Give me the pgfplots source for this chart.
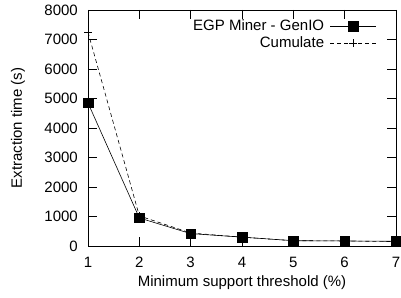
\documentclass[border=0pt]{standalone}
\usepackage{pgfplots}
\pgfplotsset{compat=1.18}
\usepackage{fontspec}
\setmainfont{Liberation Sans}
\begin{document}
\begin{tikzpicture}[font=\fontsize{15bp}{17bp}\selectfont]
\begin{axis}[
  scale only axis,
  width=308bp, height=236bp,
  xmin=1, xmax=7, ymin=0, ymax=8000,
  xtick={1,2,3,4,5,6,7},
  ytick={0,1000,2000,3000,4000,5000,6000,7000,8000},
  tick align=inside,
  major tick length=9bp,
  tick style={black, line width=0.6pt},
  axis line style={line width=0.8pt},
  scaled y ticks=false,
  tick label style={font=\fontsize{15bp}{17bp}\selectfont},
  label style={font=\fontsize{15bp}{17bp}\selectfont},
  yticklabel style={/pgf/number format/1000 sep={}, anchor=east, inner sep=0pt, xshift=-10bp},
  xticklabel style={anchor=center, inner sep=0pt, yshift=-16bp},
  /pgf/number format/assume math mode=true,
  xlabel={Minimum support threshold (\%)},
  ylabel={Extraction time (s)},
  xlabel style={at={(rel axis cs:0.5,0)}, anchor=center, yshift=-37bp},
  ylabel style={at={(rel axis cs:0,0.5)}, anchor=center, rotate=0, yshift=70bp},
  legend style={draw=none, fill=none, at={(rel axis cs:0.938,0.962)}, anchor=north east,
    font=\fontsize{15bp}{17bp}\selectfont, row sep=3bp, inner sep=0pt,
    nodes={inner sep=0pt, text height=11bp, text depth=3bp}},
  legend cell align=right,
  legend plot pos=right,
  legend image code/.code={\path (0bp,0bp); \draw[#1] (6bp,0bp) -- (52bp,0bp); \draw[#1, only marks] plot coordinates {(29bp,0bp)};},
]
\addplot[black, line width=0.6pt, mark=square*, mark size=4.8bp, mark options={solid}]
  coordinates {(1,4850) (2,950) (3,420) (4,300) (5,180) (6,170) (7,160)};
\addlegendentry{EGP Miner - GenIO}
\addplot[black, line width=0.6pt, dash pattern=on 4bp off 3bp, mark=+, mark size=4bp, mark options={solid}]
  coordinates {(1,7250) (2,1020) (3,440) (4,300) (5,180) (6,170) (7,150)};
\addlegendentry{Cumulate}
\end{axis}
\pgfresetboundingbox
\path ([xshift=-88bp,yshift=-52bp]current axis.south west) rectangle ([xshift=5bp,yshift=10bp]current axis.north east);
\end{tikzpicture}
\end{document}
